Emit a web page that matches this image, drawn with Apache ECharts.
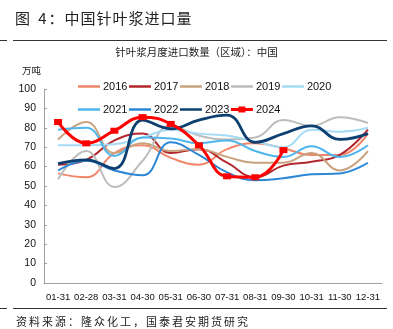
<!DOCTYPE html>
<html><head><meta charset="utf-8">
<script src="https://cdn.jsdelivr.net/npm/echarts@6/dist/echarts.min.js"></script>
<style>html,body{margin:0;padding:0;background:#fff}#c{width:393px;height:329px}</style>
</head><body><div id="c"></div>
<script>
const categories = ['01-31','02-28','03-31','04-30','05-31','06-30','07-31','08-31','09-30','10-31','11-30','12-31'];
const years = ['2016','2017','2018','2019','2020','2021','2022','2023','2024'];
const s2016 = [56.5, 54.5, 67, 71, 64.5, 61, 69, 72, 69.5, 66, 66, 77];
const s2017 = [61, 63.5, 73.5, 77, 67, 69, 62, 54.5, 60.5, 62.5, 66, 79];
const s2018 = [74, 83, 67, 72, 68, 69, 65, 62, 62, 67, 58, 68];
const s2019 = [53.5, 68, 49.5, 63, 81, 76, 74, 75, 84, 81, 85.5, 82.5];
const s2020 = [71, 71, 71.5, 75, 79, 77, 76, 73, 70, 79, 78, 80];
const s2021 = [79, 80, 65.5, 75, 74.5, 72, 73.5, 68, 65, 70.5, 65, 71];
const s2022 = [58, 63, 58, 55.5, 72.5, 66, 57, 53, 54, 56, 56.5, 62];
const s2023 = [61.5, 63.5, 59, 84, 79.5, 84, 86.5, 72.5, 77, 81, 74, 77];
const s2024 = [83, 72, 78.5, 85.5, 82, 71, 55, 54.5, 68.5];
const yTicks = [0,10,20,30,40,50,60,70,80,90,100];
const titleText = '图 4：中国针叶浆进口量';
const subTitleText = '针叶浆月度进口数量（区域）：中国';
const unitText = '万吨';
const sourceText = '资料来源：隆众化工，国泰君安期货研究';

const seriesData = [s2016,s2017,s2018,s2019,s2020,s2021,s2022,s2023,s2024];
const colors = ['#F0866A','#B3272D','#C9A27E','#BDBDBD','#A6DBF5','#4FB6EC','#2C87D6','#0D3F70','#FF0000'];
const widths = [2,2,2,2,2,2,2,2.8,3];

const CJK = '"Noto Sans CJK SC", sans-serif';
const SANS = '"Liberation Sans", Arial, sans-serif';
function spaced(text, x, y, pitch, size, color){
  const out = [];
  let cx = x;
  for (const ch of text){
    out.push({type:'text', left:cx, top:y, style:{text:ch, font: size+'px '+CJK, fill:color}, z:10});
    cx += (ch === ' ' ? pitch*0.45 : (/[0-9]/.test(ch) ? pitch*0.65 : pitch));
  }
  return out;
}

const series = years.map((y,i)=>({
  name:y, type:'line', data:seriesData[i], smooth:0.45,
  showSymbol: i===8, symbol: i===8 ? 'rect' : 'none', symbolSize:[8,6],
  lineStyle:{color:colors[i], width:widths[i]},
  itemStyle:{color:colors[i]},
  z: 2+i
}));

const lineIcon = 'path://M0,0 L0.01,0 L0,0 Z M0,2.8 L22,2.8 L22,5.2 L0,5.2 Z M0,8 L0.01,8 L0,8 Z';
const markIcon = 'path://M0,0 L0.01,0 L0,0 Z M0,2.6 L22,2.6 L22,5.4 L0,5.4 Z M7.5,1 L14.5,1 L14.5,7 L7.5,7 Z M0,8 L0.01,8 L0,8 Z';
function legendItems(list){
  return list.map(n => ({name:n, icon: n==='2024' ? markIcon : lineIcon}));
}
const legendCommon = {
  itemWidth:22, itemHeight:8, itemGap:1.5, padding:0,
  textStyle:{fontFamily:SANS, fontSize:11, color:'#111', padding:[0,0,0,-2]},
};

const chart = echarts.init(document.getElementById('c'));
chart.setOption({
  animation:false,
  grid:{left:44, right:11, top:89, bottom:46},
  legend:[
    Object.assign({}, legendCommon, {data:legendItems(years.slice(0,5)), left:78, top:81}),
    Object.assign({}, legendCommon, {data:legendItems(years.slice(5)), left:78, top:104})
  ],
  xAxis:{
    type:'category', data:categories, boundaryGap:true,
    axisLine:{lineStyle:{color:'#A0A0A0', width:1}},
    axisTick:{inside:true, length:5, lineStyle:{color:'#A0A0A0'}},
    axisLabel:{color:'#111', fontSize:9.5, fontFamily:SANS, margin:9, interval:0}
  },
  yAxis:{
    type:'value', min:yTicks[0], max:yTicks[yTicks.length-1], interval:10,
    axisLine:{show:true, lineStyle:{color:'#A0A0A0', width:1}},
    axisTick:{show:true, inside:true, length:3, lineStyle:{color:'#A0A0A0'}},
    splitLine:{show:false},
    axisLabel:{color:'#111', fontSize:10.5, fontFamily:SANS, margin:8}
  },
  series:series,
  graphic:[].concat(
    spaced(titleText, 15, 11, 16, 15, '#222'),
    [{type:'line', shape:{x1:0,y1:40.5,x2:7,y2:40.5}, style:{stroke:'#333', lineWidth:1}},
     {type:'line', shape:{x1:13,y1:40.5,x2:387,y2:40.5}, style:{stroke:'#333', lineWidth:1}},
     {type:'text', left:'center', top:47, style:{text:subTitleText, font:'10.5px '+CJK, fill:'#222'}},
     {type:'text', left:22, top:66, style:{text:unitText, font:'9.5px '+CJK, fill:'#222'}},
     {type:'line', shape:{x1:0,y1:308.5,x2:7,y2:308.5}, style:{stroke:'#333', lineWidth:1}},
     {type:'line', shape:{x1:13,y1:308.5,x2:387,y2:308.5}, style:{stroke:'#333', lineWidth:1}}],
    spaced(sourceText, 16, 316, 13, 11, '#222')
  )
});
</script></body></html>
